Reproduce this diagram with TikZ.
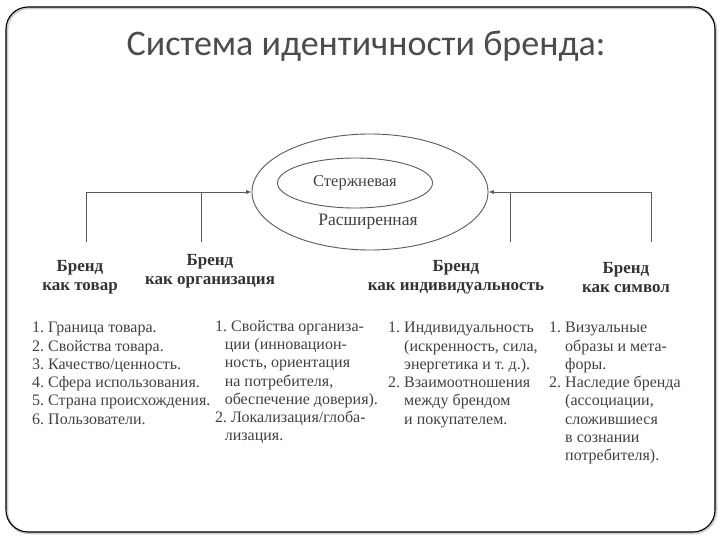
\documentclass[tikz,border=0pt]{standalone}
\usepackage{fontspec}
\setmainfont{Liberation Serif}
\newfontfamily\titlefont{Carlito}
\usetikzlibrary{shapes.geometric}
\newcommand{\cont}{\hspace*{1em}}
\newcommand{\shortcont}{\hspace*{0.6em}}
\begin{document}
\begin{tikzpicture}[
		x={(1pt,0pt)},
		y={(0pt,-1pt)},
		line/.style={draw=black!65, line width=0.9pt},
		head/.style={align=center, inner sep=0pt, font=\bfseries\fontsize{17}{19}\selectfont, text=black!80},
		list/.style={align=flush left, anchor=north west, inner sep=0pt, font=\frenchspacing\fontsize{16}{18.3}\selectfont, text=black!75, execute at begin node=\strut},
	]
		\useasboundingbox (0,0) rectangle (720,540);
		\draw[black!20, line width=2.5pt, rounded corners=22pt] (7,8) rectangle (716,533);
		\draw[black, line width=1.1pt, rounded corners=22pt] (6,7) rectangle (715,532);
		
		\node[anchor=base, text=black!70, font=\titlefont\fontsize{36}{40}\selectfont] (title) at (366,56) {Система идентичности бренда:};
		
		\node[line, ellipse, minimum width=236pt, minimum height=116pt, inner sep=0pt] (outer) at (370,192) {};
		\node[line, ellipse, minimum width=155pt, minimum height=50pt, inner sep=0pt, font=\fontsize{16.5}{18}\selectfont, text=black!75] (core) at (355,183) {Стержневая};
		\node[font=\fontsize{17.5}{18}\selectfont, text=black!75] (ext) at (368,222) {Расширенная};
		
		\node[head] (prod) at (80,277) {Бренд\\как товар};
		\node[head] (org) at (210,271) {Бренд\\как организация};
		\node[head] (ind) at (456,277) {Бренд\\как индивидуальность};
		\node[head] (sym) at (626,278) {Бренд\\как символ};
		
		\coordinate (prod-top) at (86,242);
		\coordinate (org-top) at (201,242);
		\coordinate (ind-top) at (510,242);
		\coordinate (sym-top) at (651,242);
		\draw[line,-latex] (prod-top) |- (outer.west);
		\draw[line] (org-top) -- (org-top |- outer.west);
		\draw[line,-latex] (sym-top) |- (outer.east);
		\draw[line] (ind-top) -- (ind-top |- outer.east);
		
		\node[list] (prodlist) at (32,322) {1. Граница товара.\\2. Свойства товара.\\3. Качество/ценность.\\4. Сфера использования.\\5. Страна происхождения.\\6. Пользователи.};
		\node[list] (orglist) at (215,320) {1. Свойства организа-\\\shortcont ции (инновацион-\\\shortcont ность, ориентация\\\shortcont на потребителя,\\\shortcont обеспечение доверия).\\2. Локализация/глоба-\\\shortcont лизация.};
		\node[list] (indlist) at (388,322) {1. Индивидуальность\\\cont (искренность, сила,\\\cont энергетика и т. д.).\\2. Взаимоотношения\\\cont между брендом\\\cont и покупателем.};
		\node[list] (symlist) at (549,322) {1. Визуальные\\\cont образы и мета-\\\cont форы.\\2. Наследие бренда\\\cont (ассоциации,\\\cont сложившиеся\\\cont в сознании\\\cont потребителя).};
	\end{tikzpicture}
\end{document}
